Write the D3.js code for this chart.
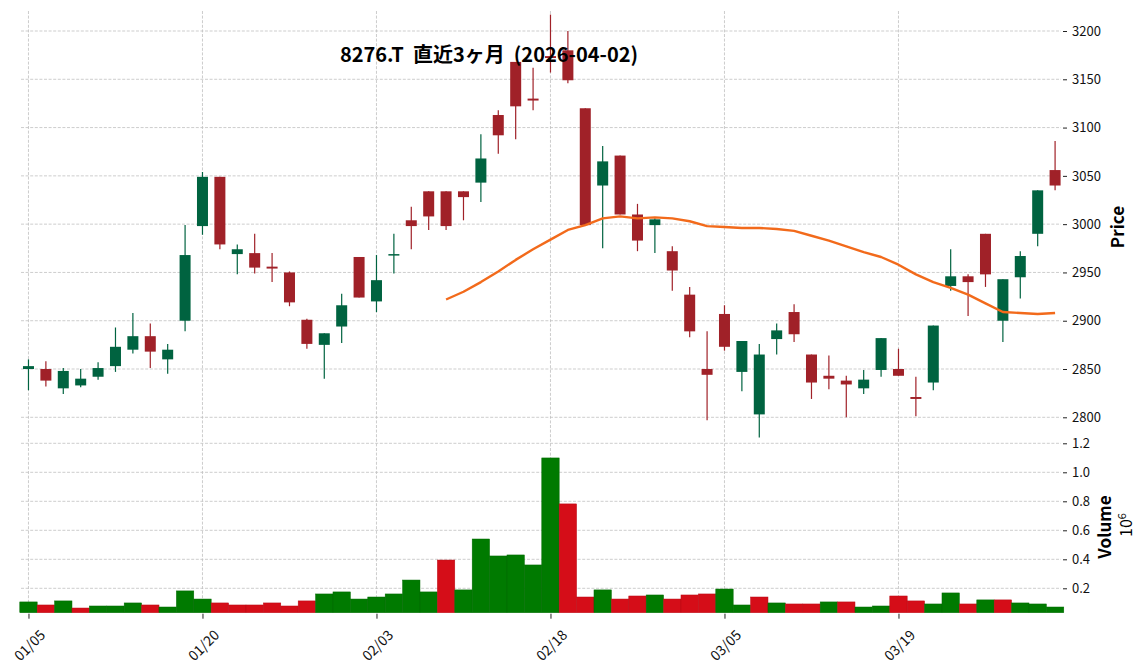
<!DOCTYPE html>
<html>
  <head>
    <meta charset="utf-8">
    <script src="https://d3js.org/d3.v7.min.js"></script>
    <style>
      body { margin: 0; background: #fff; }
      text { font-family: "Noto Sans CJK JP", "Noto Sans", sans-serif; }
    </style>
  </head>
  <body>
    <div id="chart">
      <svg width="1148" height="670"></svg>
    </div>

    <script>
      // trading days, 2026-01-05 .. 2026-04-02
      const dates = [
        '01/05','01/06','01/07','01/08','01/09','01/13','01/14','01/15','01/16','01/19',
        '01/20','01/21','01/22','01/23','01/26','01/27','01/28','01/29','01/30','02/02',
        '02/03','02/04','02/05','02/06','02/09','02/10','02/12','02/13','02/16','02/17',
        '02/18','02/19','02/20','02/24','02/25','02/26','02/27','03/02','03/03','03/04',
        '03/05','03/06','03/09','03/10','03/11','03/12','03/13','03/16','03/17','03/18',
        '03/19','03/23','03/24','03/25','03/26','03/27','03/30','03/31','04/01','04/02'
      ];
      const opens = [
        2850,2850,2830,2833,2842,2853,2870,2884,2860,2900,
        2998,3049,2969,2970,2956,2950,2901,2875,2894,2966,
        2920,2968,3004,3034,3034,3034,3043,3113,3168,3130,
        3174,3180,3120,3040,3071,3010,2999,2972,2927,2850,
        2907,2847,2803,2881,2909,2865,2843,2838,2830,2849,
        2850,2821,2836,2936,2946,2990,2900,2945,2990,3056
      ];
      const highs = [
        2860,2858,2851,2850,2857,2893,2908,2897,2876,2999,
        3054,3049,2979,2990,2970,2951,2902,2887,2928,2966,
        2968,2990,3018,3034,3034,3034,3093,3118,3168,3162,
        3217,3200,3120,3081,3071,3021,3006,2977,2935,2889,
        2916,2879,2876,2897,2917,2865,2864,2843,2849,2882,
        2871,2842,2895,2974,2948,2990,2943,2972,3035,3086
      ];
      const lows = [
        2828,2832,2824,2831,2839,2847,2866,2851,2845,2889,
        2989,2974,2948,2949,2940,2915,2871,2840,2877,2924,
        2909,2949,2974,2994,2994,3004,3023,3073,3088,3118,
        3157,3146,2999,2975,3010,2972,2970,2931,2883,2797,
        2869,2827,2779,2865,2878,2819,2829,2800,2824,2842,
        2843,2801,2828,2931,2905,2935,2878,2923,2977,3035
      ];
      const closes = [
        2853,2838,2848,2840,2851,2873,2884,2868,2870,2968,
        3049,2979,2974,2955,2954,2919,2876,2887,2916,2924,
        2942,2969,2998,3008,2998,3028,3068,3092,3122,3128,
        3172,3149,2999,3065,3010,2983,3005,2952,2889,2844,
        2873,2879,2865,2890,2886,2836,2840,2834,2839,2882,
        2843,2819,2895,2946,2940,2948,2943,2967,3035,3040
      ];
      // volume in millions of shares
      const volumes = [
        0.106,0.085,0.113,0.064,0.078,0.078,0.099,0.085,0.071,0.182,
        0.126,0.099,0.085,0.085,0.099,0.078,0.113,0.161,0.175,0.126,
        0.140,0.161,0.257,0.175,0.395,0.189,0.540,0.423,0.430,0.361,
        1.099,0.782,0.140,0.189,0.126,0.147,0.154,0.126,0.154,0.161,
        0.195,0.085,0.140,0.099,0.092,0.092,0.106,0.106,0.071,0.078,
        0.147,0.113,0.092,0.168,0.092,0.120,0.120,0.099,0.092,0.071
      ];
      // 25-day moving average, first value at day index 24
      const maStart = 24;
      const ma25 = [
        2922,2930,2940,2951,2963,2974,2984,2994,2999,3006,
        3008,3006,3007,3006,3003,2998,2997,2996,2996,2995,
        2993,2988,2983,2977,2971,2966,2958,2948,2940,2934,
        2927,2918,2909,2908,2907,2908
      ];
      const xTickLabels = ['01/05','01/20','02/03','02/18','03/05','03/19'];
      const priceTicks = [2800, 2850, 2900, 2950, 3000, 3050, 3100, 3150, 3200];
      const volumeTicks = [0.2, 0.4, 0.6, 0.8, 1.0, 1.2];

      const upCandle = '#006340';
      const downCandle = '#a02128';
      const upVol = '#007a00';
      const downVol = '#d50d18';
      const gridColor = '#c0c0c0';

      const left = 21, right = 1061;
      const priceTop = 11, priceBottom = 443;
      const volTop = 443, volBottom = 612.7;

      const svg = d3.select('#chart').select('svg');

      const x = d3.scaleLinear().domain([-0.43, dates.length - 1 + 0.34]).range([left, right]);
      const step = x(1) - x(0);
      const y = d3.scaleLinear().domain([2800, 3200]).range([417.3, 31]);
      const yv = d3.scaleLinear().domain([0, 1.2]).range([617.3, 443.3]);

      const tickIdx = xTickLabels.map(d => dates.indexOf(d));

      // grid
      const grid = svg.append('g');
      grid.selectAll('.hp').data(priceTicks).join('line')
        .attr('x1', left).attr('x2', right)
        .attr('y1', d => y(d)).attr('y2', d => y(d));
      grid.selectAll('.hv').data(volumeTicks).join('line')
        .attr('x1', left).attr('x2', right)
        .attr('y1', d => yv(d)).attr('y2', d => yv(d));
      grid.selectAll('.vx').data(tickIdx).join('line')
        .attr('x1', d => x(d)).attr('x2', d => x(d))
        .attr('y1', priceTop).attr('y2', volBottom);
      grid.selectAll('line')
        .attr('stroke', gridColor)
        .attr('stroke-width', 0.8)
        .attr('stroke-dasharray', '3,1.6');

      // volume bars
      const volColor = (d, i) => (i === 0 || closes[i] >= closes[i - 1]) ? upVol : downVol;
      svg.append('g').selectAll('rect').data(volumes).join('rect')
        .attr('x', (d, i) => x(i) - step / 2)
        .attr('width', step)
        .attr('y', d => yv(d))
        .attr('height', d => volBottom - yv(d))
        .attr('fill', volColor)
        .attr('stroke', (d, i) => d3.color(volColor(d, i)).darker(0.4))
        .attr('stroke-width', 0.5);

      // candles
      const isUp = i => closes[i] >= opens[i];
      const candles = svg.append('g').selectAll('g').data(dates).join('g');
      candles.append('line')
        .attr('x1', (d, i) => x(i)).attr('x2', (d, i) => x(i))
        .attr('y1', (d, i) => y(highs[i])).attr('y2', (d, i) => y(lows[i]))
        .attr('stroke', (d, i) => isUp(i) ? upCandle : downCandle)
        .attr('stroke-width', 1.2);
      candles.append('rect')
        .attr('x', (d, i) => x(i) - 5.5)
        .attr('width', 11)
        .attr('y', (d, i) => y(Math.max(opens[i], closes[i])))
        .attr('height', (d, i) => Math.max(1.5, Math.abs(y(opens[i]) - y(closes[i]))))
        .attr('fill', (d, i) => isUp(i) ? upCandle : downCandle);

      // moving average
      svg.append('path')
        .datum(ma25)
        .attr('fill', 'none')
        .attr('stroke', '#f26a1b')
        .attr('stroke-width', 2.4)
        .attr('stroke-linejoin', 'round')
        .attr('d', d3.line().x((d, i) => x(i + maStart)).y(d => y(d)));

      // right axes
      const styleAxis = g => {
        g.select('.domain').remove();
        g.selectAll('.tick line').attr('stroke', '#222');
        g.selectAll('.tick text')
          .attr('fill', '#111')
          .style('font-size', '13px')
          .style('font-family', '"Noto Sans CJK JP", sans-serif');
      };
      svg.append('g')
        .attr('transform', `translate(${right + 2},0)`)
        .call(d3.axisRight(y).tickValues(priceTicks).tickSize(4).tickPadding(5).tickFormat(d3.format('d')))
        .call(styleAxis);
      svg.append('g')
        .attr('transform', `translate(${right + 2},0)`)
        .call(d3.axisRight(yv).tickValues(volumeTicks).tickSize(4).tickPadding(5).tickFormat(d3.format('.1f')))
        .call(styleAxis);

      // bottom axis
      const xAxis = svg.append('g')
        .attr('transform', `translate(0,${volBottom + 1})`)
        .call(d3.axisBottom(x).tickValues(tickIdx).tickSize(5).tickFormat(d => dates[d]))
        .call(styleAxis);
      xAxis.selectAll('.tick text')
        .attr('y', 0).attr('dy', 0)
        .attr('text-anchor', 'middle')
        .attr('dominant-baseline', 'central')
        .style('font-size', '14px')
        .attr('transform', 'translate(0,31) rotate(-45)');

      // labels
      svg.append('text')
        .attr('x', 489).attr('y', 62)
        .attr('text-anchor', 'middle')
        .style('font-size', '20px')
        .style('font-weight', 'bold')
        .text('8276.T\u00a0\u00a0直近3ヶ月\u00a0\u00a0(2026-04-02)');

      svg.append('text')
        .attr('transform', 'translate(1124,227) rotate(-90)')
        .attr('text-anchor', 'middle')
        .style('font-size', '17px')
        .style('font-weight', 'bold')
        .text('Price');

      svg.append('text')
        .attr('transform', 'translate(1111,527) rotate(-90)')
        .attr('text-anchor', 'middle')
        .style('font-size', '17px')
        .style('font-weight', 'bold')
        .text('Volume');

      const exp = svg.append('text')
        .attr('transform', 'translate(1132,525) rotate(-90)')
        .attr('text-anchor', 'middle')
        .style('font-size', '16px');
      exp.append('tspan').text('10');
      exp.append('tspan').attr('dy', -6).style('font-size', '11px').text('6');
    </script>
  </body>
</html>
